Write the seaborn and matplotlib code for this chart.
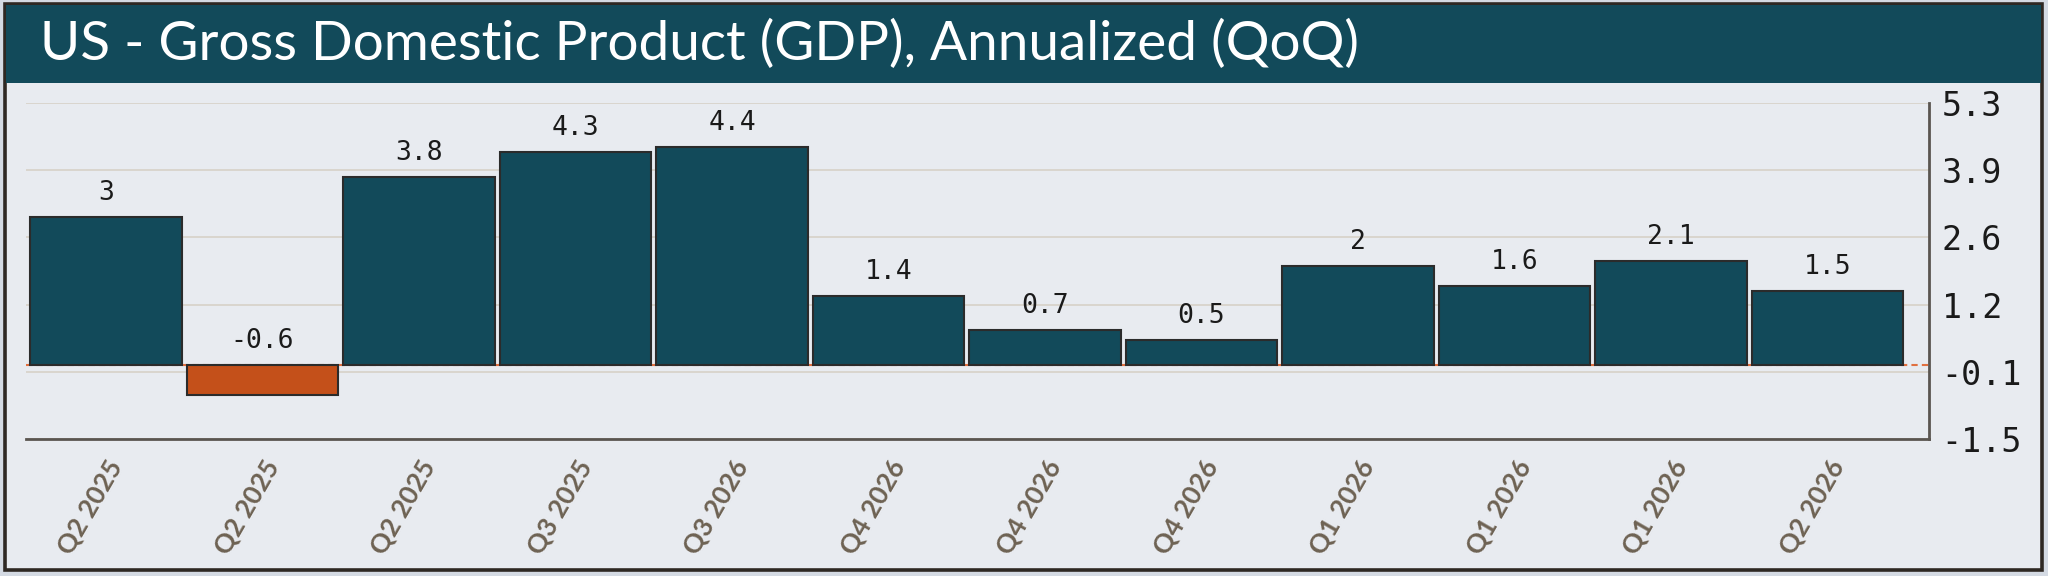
import numpy as np
import pandas as pd
import matplotlib
matplotlib.use("Agg")
import matplotlib.pyplot as plt
from matplotlib.patches import Rectangle
import seaborn as sns

# ---- data ----
quarters = ["Q2 2025", "Q2 2025", "Q2 2025", "Q3 2025", "Q3 2026", "Q4 2026",
            "Q4 2026", "Q4 2026", "Q1 2026", "Q1 2026", "Q1 2026", "Q2 2026"]
gdp_values = [3, -0.6, 3.8, 4.3, 4.4, 1.4, 0.7, 0.5, 2, 1.6, 2.1, 1.5]
y_ticks = [-1.5, -0.14, 1.22, 2.58, 3.94, 5.3]
title_text = "US - Gross Domestic Product (GDP), Annualized (QoQ)"

# ---- colours ----
TEAL = "#124a5a"
ORANGE = "#c4501a"
PANEL = "#e8ebf0"
OUTER = "#d4dae3"
BORDER = "#2e2823"
GRID = "#d9d5ce"
SPINE = "#5a5550"
XLAB = "#6e6253"

sns.set_theme(style="white")
plt.rcParams['font.family'] = ['DejaVu Sans']

W, H = 2048, 576
fig = plt.figure(figsize=(W / 100, H / 100), dpi=100, facecolor=OUTER)

# panel + border
fig.patches.append(Rectangle((5 / W, 1 - 570 / H), 2037 / W, 566 / H, transform=fig.transFigure,
                             facecolor=PANEL, edgecolor=BORDER, linewidth=2.6, zorder=-3))
# header band
fig.patches.append(Rectangle((6 / W, 1 - 83 / H), 2035 / W, 78 / H, transform=fig.transFigure,
                             facecolor=TEAL, edgecolor="none", zorder=-2))
fig.text(40 / W, 1 - 44 / H, title_text, color="white", fontsize=39.5, family=["Lato", "DejaVu Sans"],
         ha="left", va="center", zorder=2)

ax = fig.add_axes([26 / W, 1 - 439 / H, 1903 / W, 336 / H])
ax.set_facecolor("none")
ax.set_zorder(1)

df = pd.DataFrame({
    "idx": list(range(len(gdp_values))),
    "value": gdp_values,
    "sign": ["neg" if v < 0 else "pos" for v in gdp_values],
})
sns.barplot(data=df, x="idx", y="value", hue="sign", palette={"pos": TEAL, "neg": ORANGE},
            dodge=False, width=0.97, legend=False, edgecolor="#2b2b2b", linewidth=1.5,
            saturation=1, ax=ax, zorder=3)

ax.set_xlim(-0.511, 11.649)
ax.set_ylim(-1.5, 5.3)
ax.set_yticks(y_ticks)
ax.set_yticklabels([f"{v:.1f}" for v in y_ticks], family="DejaVu Sans Mono", fontsize=24, color="#1a1a1a")
ax.yaxis.tick_right()
ax.tick_params(axis="y", length=0, pad=9)
ax.set_xticks(range(len(quarters)))
ax.set_xticklabels(quarters, rotation=60, ha="right", rotation_mode="anchor",
                   family=["Lato", "DejaVu Sans"], fontsize=19, color=XLAB, fontweight="bold")
ax.tick_params(axis="x", length=0, pad=12)
ax.set_xlabel("")
ax.set_ylabel("")

for yv in y_ticks:
    ax.axhline(yv, color=GRID, linewidth=1.4, zorder=1)
ax.axhline(0, color="#e07040", linewidth=1.5, linestyle=(0, (3, 2)), zorder=2)

for s in ["left", "top"]:
    ax.spines[s].set_visible(False)
for s in ["right", "bottom"]:
    ax.spines[s].set_color(SPINE)
    ax.spines[s].set_linewidth(2)

for i, v in enumerate(gdp_values):
    ax.annotate(f"{v:g}", xy=(i, max(v, 0)), xytext=(0, 8), textcoords="offset points",
                ha="center", va="bottom", family="DejaVu Sans Mono", fontsize=19,
                color="#1a1a1a", zorder=5)

fig.savefig("out.png", dpi=100, facecolor=OUTER)
